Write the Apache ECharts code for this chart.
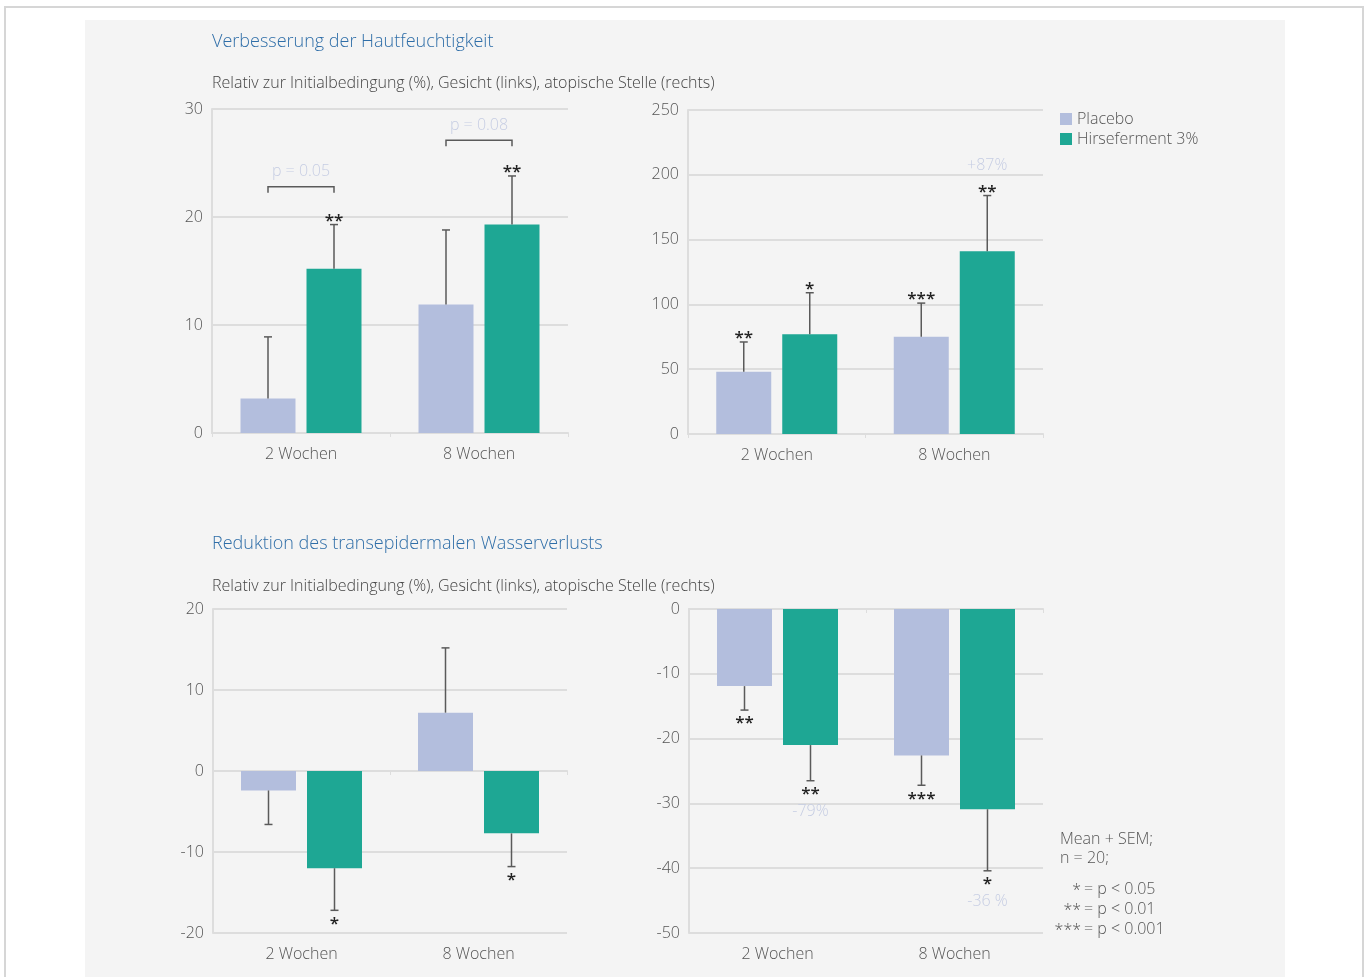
<!DOCTYPE html>
<html>
<head>
<meta charset="utf-8">
<script src="https://cdn.jsdelivr.net/npm/echarts@6/dist/echarts.min.js"></script>
<style>
html, body { margin: 0; padding: 0; background: #fff; }
#chart { width: 1368px; height: 977px; }
</style>
</head>
<body>
<div id="chart"></div>
<script>
const categories = ['2 Wochen', '8 Wochen'];

// Hautfeuchtigkeit – Gesicht (links)
const moistFacePlacebo = [3.2, 11.9];
const moistFacePlaceboSem = [5.7, 6.9];
const moistFaceHirse = [15.2, 19.3];
const moistFaceHirseSem = [4.1, 4.5];
const moistFacePlaceboStars = ['', ''];
const moistFaceHirseStars = ['**', '**'];
const moistFacePLabels = ['p = 0.05', 'p = 0.08'];
const moistFacePBracket = [22.8, 27.1];

// Hautfeuchtigkeit – atopische Stelle (rechts)
const moistAtopPlacebo = [48, 75];
const moistAtopPlaceboSem = [23, 26];
const moistAtopHirse = [77, 141];
const moistAtopHirseSem = [32, 43];
const moistAtopPlaceboStars = ['**', '***'];
const moistAtopHirseStars = ['*', '**'];
const moistAtopHirsePct = ['', '+87%'];

// TEWL – Gesicht (links)
const tewlFacePlacebo = [-2.4, 7.2];
const tewlFacePlaceboSem = [4.2, 8.0];
const tewlFaceHirse = [-12.0, -7.7];
const tewlFaceHirseSem = [5.2, 4.1];
const tewlFacePlaceboStars = ['', ''];
const tewlFaceHirseStars = ['*', '*'];

// TEWL – atopische Stelle (rechts)
const tewlAtopPlacebo = [-11.9, -22.6];
const tewlAtopPlaceboSem = [3.7, 4.6];
const tewlAtopHirse = [-21.0, -30.9];
const tewlAtopHirseSem = [5.5, 9.5];
const tewlAtopPlaceboStars = ['**', '***'];
const tewlAtopHirseStars = ['**', '*'];
const tewlAtopHirsePct = ['-79%', '-36 %'];

const yTicksMoistFace = [0, 30, 10];
const yTicksMoistAtop = [0, 250, 50];
const yTicksTewlFace = [-20, 20, 10];
const yTicksTewlAtop = [-50, 0, 10];

const FONT = "'Open Sans', 'Noto Sans', sans-serif";
const C_PLACEBO = '#b3bedd';
const C_HIRSE = '#1ea794';
const C_GRID = '#dddddd';
const C_TEXT = '#555555';
const C_PALE = '#c6cde3';
const BAR_OFF = 33;

const chart = echarts.init(document.getElementById('chart'));

const grids = [
  { left: 212, right: 800, top: 109, height: 324 },
  { left: 688, right: 325, top: 110, height: 324 },
  { left: 213, right: 801, top: 609, height: 324 },
  { left: 689, right: 325, top: 609, height: 324 }
];
const yTicks = [yTicksMoistFace, yTicksMoistAtop, yTicksTewlFace, yTicksTewlAtop];

const xAxes = [];
const yAxes = [];
grids.forEach((g, i) => {
  // line + ticks at zero
  xAxes.push({
    type: 'category', gridIndex: i, data: categories,
    axisLine: { onZero: true, lineStyle: { color: C_GRID, width: 2 } },
    axisTick: { show: true, length: 4, lineStyle: { color: C_GRID } },
    axisLabel: { show: false }
  });
  // labels always under the plot
  xAxes.push({
    type: 'category', gridIndex: i, data: categories, position: 'bottom',
    axisLine: { show: false, onZero: false }, axisTick: { show: false },
    axisLabel: { margin: 13, color: C_TEXT, fontSize: 16, fontFamily: FONT, fontWeight: 300 }
  });
  yAxes.push({
    type: 'value', gridIndex: i, min: yTicks[i][0], max: yTicks[i][1], interval: yTicks[i][2],
    axisLine: { show: true, lineStyle: { color: C_GRID, width: 2 } },
    axisTick: { show: false },
    splitLine: { lineStyle: { color: C_GRID, width: 2 } },
    axisLabel: { margin: 9, color: C_TEXT, fontSize: 16, fontFamily: FONT, fontWeight: 300 }
  });
});

function barSeries(gi, name, values, color) {
  return {
    type: 'bar', name, xAxisIndex: gi * 2, yAxisIndex: gi,
    data: values, barWidth: 55, barGap: '20%',
    itemStyle: { color }, silent: true
  };
}

function errSeries(gi, means, sems, stars, pcts, offset) {
  return {
    type: 'custom', xAxisIndex: gi * 2, yAxisIndex: gi, silent: true, z: 5,
    data: means.map((m, i) => [i, m, m < 0 ? m - sems[i] : m + sems[i]]),
    renderItem(params, api) {
      const i = params.dataIndex;
      const base = api.coord([api.value(0), api.value(1)]);
      const end = api.coord([api.value(0), api.value(2)]);
      const x = base[0] + offset;
      const down = api.value(2) < api.value(1);
      const ls = { stroke: '#5a5a5a', lineWidth: 1.5 };
      const kids = [
        { type: 'line', shape: { x1: x, y1: base[1], x2: x, y2: end[1] }, style: ls },
        { type: 'line', shape: { x1: x - 4, y1: end[1], x2: x + 4, y2: end[1] }, style: ls }
      ];
      if (stars && stars[i]) {
        kids.push({
          type: 'text', x, y: down ? end[1] + 5 : end[1] - 12,
          style: { text: stars[i], align: 'center', verticalAlign: 'top', fill: '#222', fontSize: 17, fontWeight: 600, fontFamily: FONT }
        });
      }
      if (pcts && pcts[i]) {
        kids.push({
          type: 'text', x, y: down ? end[1] + 31 : end[1] - 30,
          style: { text: pcts[i], align: 'center', verticalAlign: 'middle', fill: C_PALE, fontSize: 16, fontFamily: FONT, fontWeight: 300 }
        });
      }
      return { type: 'group', children: kids };
    }
  };
}

const bracketSeries = {
  type: 'custom', xAxisIndex: 0, yAxisIndex: 0, silent: true, z: 5,
  data: moistFacePBracket.map((v, i) => [i, v]),
  renderItem(params, api) {
    const i = params.dataIndex;
    const p = api.coord([api.value(0), api.value(1)]);
    const x1 = p[0] - BAR_OFF, x2 = p[0] + BAR_OFF, y = p[1];
    return {
      type: 'group',
      children: [
        { type: 'polyline', shape: { points: [[x1, y + 6], [x1, y], [x2, y], [x2, y + 6]] }, style: { stroke: '#5a5a5a', lineWidth: 1.5, fill: null } },
        { type: 'text', x: p[0], y: y - 15, style: { text: moistFacePLabels[i], align: 'center', verticalAlign: 'middle', fill: C_PALE, fontSize: 16, fontFamily: FONT, fontWeight: 300 } }
      ]
    };
  }
};

const series = [
  barSeries(0, 'Placebo', moistFacePlacebo, C_PLACEBO),
  barSeries(0, 'Hirseferment 3%', moistFaceHirse, C_HIRSE),
  errSeries(0, moistFacePlacebo, moistFacePlaceboSem, moistFacePlaceboStars, null, -BAR_OFF),
  errSeries(0, moistFaceHirse, moistFaceHirseSem, moistFaceHirseStars, null, BAR_OFF),
  bracketSeries,
  barSeries(1, 'Placebo', moistAtopPlacebo, C_PLACEBO),
  barSeries(1, 'Hirseferment 3%', moistAtopHirse, C_HIRSE),
  errSeries(1, moistAtopPlacebo, moistAtopPlaceboSem, moistAtopPlaceboStars, null, -BAR_OFF),
  errSeries(1, moistAtopHirse, moistAtopHirseSem, moistAtopHirseStars, moistAtopHirsePct, BAR_OFF),
  barSeries(2, 'Placebo', tewlFacePlacebo, C_PLACEBO),
  barSeries(2, 'Hirseferment 3%', tewlFaceHirse, C_HIRSE),
  errSeries(2, tewlFacePlacebo, tewlFacePlaceboSem, tewlFacePlaceboStars, null, -BAR_OFF),
  errSeries(2, tewlFaceHirse, tewlFaceHirseSem, tewlFaceHirseStars, null, BAR_OFF),
  barSeries(3, 'Placebo', tewlAtopPlacebo, C_PLACEBO),
  barSeries(3, 'Hirseferment 3%', tewlAtopHirse, C_HIRSE),
  errSeries(3, tewlAtopPlacebo, tewlAtopPlaceboSem, tewlAtopPlaceboStars, null, -BAR_OFF),
  errSeries(3, tewlAtopHirse, tewlAtopHirseSem, tewlAtopHirseStars, tewlAtopHirsePct, BAR_OFF)
];

function txt(x, y, text, opts) {
  return {
    type: 'text', x, y,
    style: Object.assign({ text, fill: C_TEXT, fontSize: 16, fontFamily: FONT, fontWeight: 300, verticalAlign: 'middle' }, opts || {})
  };
}

chart.setOption({
  animation: false,
  grid: grids,
  xAxis: xAxes,
  yAxis: yAxes,
  legend: {
    data: ['Placebo', 'Hirseferment 3%'],
    orient: 'vertical', left: 1055, top: 106,
    icon: 'rect', itemWidth: 12, itemHeight: 12, itemGap: 4,
    selectedMode: false,
    textStyle: { color: C_TEXT, fontSize: 16, fontFamily: FONT, fontWeight: 300 }
  },
  graphic: [
    { type: 'rect', z: -10, shape: { x: 5, y: 7, width: 1358, height: 1000 }, style: { fill: '#fff', stroke: '#d6d6d6', lineWidth: 2 } },
    { type: 'rect', z: -9, shape: { x: 85, y: 20, width: 1200, height: 980 }, style: { fill: '#f4f4f4' } },
    txt(212, 42, 'Verbesserung der Hautfeuchtigkeit', { fill: '#2f6ea8', fontSize: 18 }),
    txt(212, 83, 'Relativ zur Initialbedingung (%), Gesicht (links), atopische Stelle (rechts)', { fill: '#444' }),
    txt(212, 544, 'Reduktion des transepidermalen Wasserverlusts', { fill: '#2f6ea8', fontSize: 18 }),
    txt(212, 586, 'Relativ zur Initialbedingung (%), Gesicht (links), atopische Stelle (rechts)', { fill: '#444' }),
    txt(1060, 839, 'Mean + SEM;'),
    txt(1060, 858, 'n = 20;'),
    txt(1081, 890, '*', { align: 'right' }),
    txt(1084, 889, '= p < 0.05'),
    txt(1081, 910, '**', { align: 'right' }),
    txt(1084, 909, '= p < 0.01'),
    txt(1081, 930, '***', { align: 'right' }),
    txt(1084, 929, '= p < 0.001')
  ],
  series
});
</script>
</body>
</html>
